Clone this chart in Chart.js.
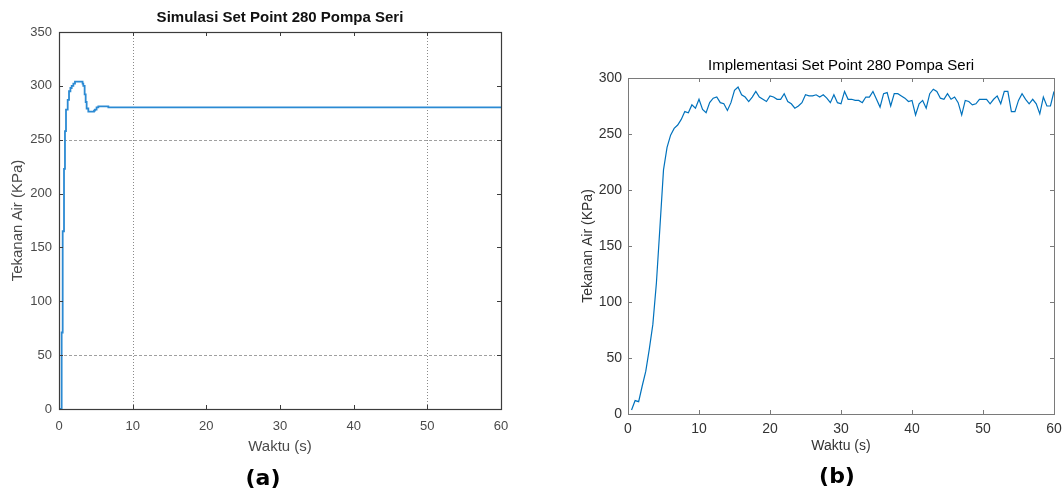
<!DOCTYPE html>
<html>
<head>
<meta charset="utf-8">
<script src="https://cdn.jsdelivr.net/npm/chart.js@4"></script>
<style>
  body { margin: 0; background: #fff; width: 1063px; height: 491px; position: relative; overflow: hidden; }
  .box { position: absolute; top: 0; }
  .tag { position: absolute; font: bold 22px "DejaVu Sans", sans-serif; color: #000; transform: translate(-50%, -50%); }
</style>
</head>
<body>
<div class="box" style="left:0"><canvas id="simChart" width="520" height="491"></canvas></div>
<div class="box" style="left:560px"><canvas id="implChart" width="503" height="491"></canvas></div>
<div class="tag" style="left:263px; top:477px">(a)</div>
<div class="tag" style="left:837px; top:475px">(b)</div>

<script>
// (a) simulasi - step response (zero-order hold)
const simT = [0, 0.25, 0.36, 0.5, 0.68, 0.81, 0.95, 1.18, 1.36, 1.55, 1.72, 1.95, 2.17, 3.07, 3.2, 3.3, 3.48, 3.62, 3.75, 3.98, 4.57, 4.75, 4.88, 5.1, 5.34, 6.24, 6.7, 60];
const simV = [0, 0, 71, 165, 223, 258, 278, 287, 295, 298, 300, 302, 304, 304, 302, 300, 292, 285, 279, 276, 276, 277, 278, 280, 281, 281, 280, 280];
const simGridX = [10, 50];
const simGridY = [50, 250];

// (b) implementasi - measured pressure
const implT = [0.5, 1, 1.5, 2, 2.5, 3, 3.5, 4, 4.5, 5, 5.5, 6, 6.5, 7, 7.5, 8, 8.5, 9, 9.5, 10,
  10.5, 11, 11.5, 12, 12.5, 13, 13.5, 14, 14.5, 15, 15.5, 16, 16.5, 17, 17.5, 18, 18.5, 19, 19.5, 20,
  20.5, 21, 21.5, 22, 22.5, 23, 23.5, 24, 24.5, 25, 25.5, 26, 26.5, 27, 27.5, 28, 28.5, 29, 29.5, 30,
  30.5, 31, 31.5, 32, 32.5, 33, 33.5, 34, 34.5, 35, 35.5, 36, 36.5, 37, 37.5, 38, 38.5, 39, 39.5, 40,
  40.5, 41, 41.5, 42, 42.5, 43, 43.5, 44, 44.5, 45, 45.5, 46, 46.5, 47, 47.5, 48, 48.5, 49, 49.5, 50,
  50.5, 51, 51.5, 52, 52.5, 53, 53.5, 54, 54.5, 55, 55.5, 56, 56.5, 57, 57.5, 58, 58.5, 59, 59.5, 60];
const implV = [3.6, 12, 11, 25, 38, 58, 80, 117, 167, 218, 238, 249, 255, 258, 263, 270, 269, 276, 273, 281,
  272, 269, 278, 282, 283, 278, 277, 271, 278, 289, 292, 285, 283, 279, 283, 288, 283, 281, 279, 284,
  283, 281, 281, 286, 279, 277, 273, 275, 278, 285, 284, 284, 285, 283, 285, 282, 278, 285, 278, 277,
  288, 281, 281, 280, 280, 278, 283, 283, 288, 281, 274, 286, 287, 275, 286, 286, 284, 282, 279, 280,
  267, 277, 280, 273, 286, 290, 288, 282, 281, 286, 281, 283, 278, 267, 280, 279, 276, 277, 281, 281,
  281, 277, 281, 284, 277, 288, 288, 270, 270, 280, 286, 281, 277, 281, 277, 268, 283, 275, 275, 288];

const xTicks = [0, 10, 20, 30, 40, 50, 60];
const FONT = "'Liberation Sans', Arial, sans-serif";

function toPoints(xs, ys) {
  return xs.map((x, i) => ({ x: x, y: ys[i] }));
}

// kotak sumbu + tick ke dalam (gaya MATLAB), grid opsional
function framePlugin(cfg) {
  return {
    id: "frame",
    beforeDatasetsDraw(chart) {
      const { ctx, chartArea: a, scales } = chart;
      ctx.save();
      ctx.lineWidth = 1;
      ctx.strokeStyle = "#8a8a8a";
      ctx.setLineDash([1, 2]);
      (cfg.gridX || []).forEach((v) => {
        const px = Math.round(scales.x.getPixelForValue(v)) + 0.5;
        ctx.beginPath();
        ctx.moveTo(px, a.top);
        ctx.lineTo(px, a.bottom);
        ctx.stroke();
      });
      ctx.strokeStyle = "#a0a0a0";
      ctx.setLineDash([3, 2]);
      (cfg.gridY || []).forEach((v) => {
        const py = Math.round(scales.y.getPixelForValue(v)) + 0.5;
        ctx.beginPath();
        ctx.moveTo(a.left, py);
        ctx.lineTo(a.right - 6, py);
        ctx.stroke();
      });
      ctx.restore();
    },
    afterDatasetsDraw(chart) {
      const { ctx, chartArea: a, scales } = chart;
      const len = cfg.tickLen;
      ctx.save();
      ctx.strokeStyle = cfg.color;
      ctx.lineWidth = 1;
      ctx.beginPath();
      scales.x.ticks.forEach((t) => {
        const px = Math.round(scales.x.getPixelForValue(t.value)) + 0.5;
        ctx.moveTo(px, a.bottom);
        ctx.lineTo(px, a.bottom - len);
        ctx.moveTo(px, a.top);
        ctx.lineTo(px, a.top + len);
      });
      scales.y.ticks.forEach((t) => {
        const py = Math.round(scales.y.getPixelForValue(t.value)) + 0.5;
        ctx.moveTo(a.left, py);
        ctx.lineTo(a.left + len, py);
        ctx.moveTo(a.right, py);
        ctx.lineTo(a.right - len, py);
      });
      ctx.stroke();
      ctx.lineWidth = cfg.frameWidth;
      ctx.strokeRect(Math.round(a.left) + 0.5, Math.round(a.top) + 0.5,
        Math.round(a.right - a.left), Math.round(a.bottom - a.top));
      ctx.restore();
    },
  };
}

function makeChart(id, opt) {
  return new Chart(document.getElementById(id), {
    type: "line",
    data: {
      datasets: [{
        data: toPoints(opt.xs, opt.ys),
        borderColor: opt.lineColor,
        borderWidth: opt.lineWidth,
        pointRadius: 0,
        stepped: opt.stepped,
        tension: 0,
        fill: false,
      }],
    },
    options: {
      responsive: false,
      animation: false,
      devicePixelRatio: 1,
      layout: { padding: { left: 0, right: opt.padRight, top: 0, bottom: opt.padBottom } },
      plugins: {
        legend: { display: false },
        tooltip: { enabled: false },
        title: {
          display: true,
          fullSize: false, // judul di tengah area plot
          text: opt.title,
          color: opt.titleColor,
          font: { family: FONT, size: 15, weight: opt.titleWeight },
          padding: opt.titlePad,
        },
      },
      scales: {
        x: {
          type: "linear",
          min: 0,
          max: 60,
          afterBuildTicks: (s) => { s.ticks = xTicks.map((v) => ({ value: v })); },
          afterFit: (s) => {
            s.height = opt.xHeight;
            s.paddingLeft = 0;
            s.paddingRight = 0;
          },
          grid: { display: false, drawTicks: false },
          border: { display: false },
          ticks: { color: opt.tickColor, padding: opt.xTickPad, font: { family: FONT, size: opt.tickSize } },
          title: {
            display: true,
            text: "Waktu (s)",
            color: opt.labelColor,
            font: { family: FONT, size: opt.labelSize },
            padding: { top: 0, bottom: opt.xTitlePad },
          },
        },
        y: {
          min: 0,
          max: opt.yMax,
          afterBuildTicks: (s) => { s.ticks = opt.yTicks.map((v) => ({ value: v })); },
          afterFit: (s) => { s.width = opt.yWidth; },
          grid: { display: false, drawTicks: false },
          border: { display: false },
          ticks: { color: opt.tickColor, padding: opt.yTickPad, font: { family: FONT, size: opt.tickSize } },
          title: {
            display: true,
            text: "Tekanan Air (KPa)",
            color: opt.labelColor,
            font: { family: FONT, size: opt.labelSize },
            padding: { top: opt.yTitlePad, bottom: 0 },
          },
        },
      },
    },
    plugins: [framePlugin(opt.frame)],
  });
}

makeChart("simChart", {
  xs: simT, ys: simV, stepped: true,
  lineColor: "#2b8ad3", lineWidth: 1.8,
  title: "Simulasi Set Point 280 Pompa Seri", titleWeight: "bold", titleColor: "#111",
  titlePad: { top: 9, bottom: 5 },
  padRight: 19, padBottom: 32,
  xHeight: 50, yWidth: 59,
  yMax: 350, yTicks: [0, 50, 100, 150, 200, 250, 300, 350],
  tickColor: "#4a4a4a", tickSize: 13, labelColor: "#4a4a4a", labelSize: 15,
  xTickPad: 10, yTickPad: 7, xTitlePad: 3, yTitlePad: 9,
  frame: { color: "#3c3c3c", tickLen: 4, frameWidth: 1.2, gridX: simGridX, gridY: simGridY },
});

makeChart("implChart", {
  xs: implT, ys: implV, stepped: false,
  lineColor: "#0072bd", lineWidth: 1.2,
  title: "Implementasi Set Point 280 Pompa Seri", titleWeight: "normal", titleColor: "#000",
  titlePad: { top: 57, bottom: 3 },
  padRight: 9, padBottom: 27,
  xHeight: 50, yWidth: 68,
  yMax: 300, yTicks: [0, 50, 100, 150, 200, 250, 300],
  tickColor: "#333", tickSize: 14, labelColor: "#333", labelSize: 14,
  xTickPad: 7, yTickPad: 6, xTitlePad: 9, yTitlePad: 20,
  frame: { color: "#7a7a7a", tickLen: 4, frameWidth: 1 },
});
</script>
</body>
</html>
